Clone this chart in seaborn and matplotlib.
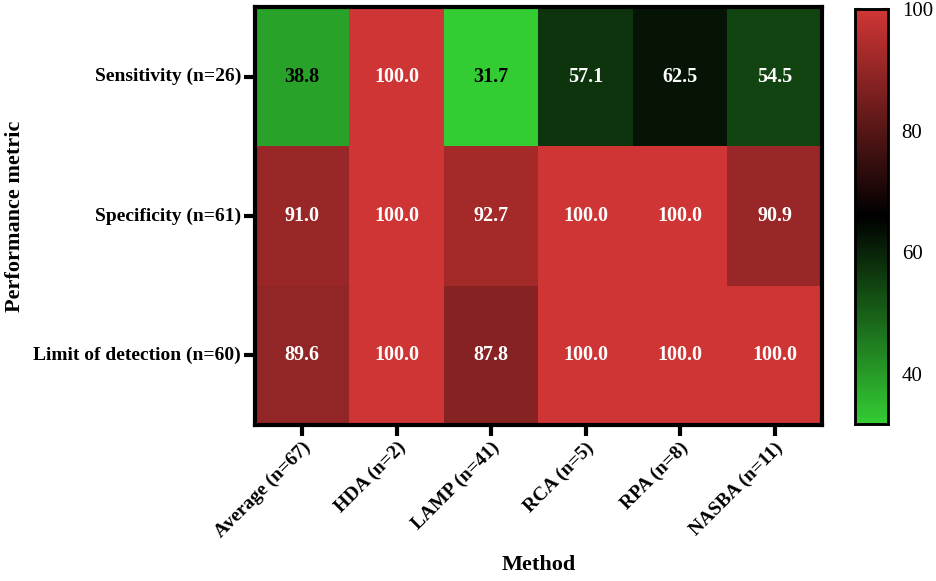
import numpy as np
import pandas as pd
import matplotlib
matplotlib.use("Agg")
import matplotlib.pyplot as plt
import seaborn as sns
from matplotlib.colors import LinearSegmentedColormap

# --- data ---
metodos = ['Average (n=67)', 'HDA (n=2)', 'LAMP (n=41)', 'RCA (n=5)', 'RPA (n=8)', 'NASBA (n=11)']
metricas = ['Sensitivity (n=26)', 'Specificity (n=61)', 'Limit of detection (n=60)']
sensibilidade = [38.8, 100.0, 31.7, 57.1, 62.5, 54.5]
especificidade = [91.0, 100.0, 92.7, 100.0, 100.0, 90.9]
limite_deteccao = [89.6, 100.0, 87.8, 100.0, 100.0, 100.0]
cbar_ticks = [40, 60, 80, 100]

df = pd.DataFrame([sensibilidade, especificidade, limite_deteccao], index=metricas, columns=metodos)

sns.set_theme(style="white")
plt.rcParams['font.family'] = ['Liberation Serif', 'DejaVu Serif']
plt.rcParams['text.color'] = 'black'
plt.rcParams['axes.labelcolor'] = 'black'
plt.rcParams['xtick.color'] = 'black'
plt.rcParams['ytick.color'] = 'black'

cmap = LinearSegmentedColormap.from_list('grn_blk_red', ['#33cc33', '#000000', '#d03535'])

fig = plt.figure(figsize=(9.37, 5.81), dpi=100)
ax = fig.add_axes([0.272, 0.2685, 0.605, 0.7195])
cax = fig.add_axes([0.9125, 0.27, 0.035, 0.714])

sns.heatmap(df, cmap=cmap, vmin=df.values.min(), vmax=100, annot=True, fmt='.1f',
            annot_kws={'fontsize': 14.5, 'fontweight': 'bold'},
            ax=ax, cbar_ax=cax, cbar_kws={'ticks': cbar_ticks})

# cor do texto: preto nos verdes claros, branco no resto
for txt in ax.texts:
    v = float(txt.get_text())
    txt.set_color('black' if v < 45 else 'white')

for s in ax.spines.values():
    s.set_visible(True)
    s.set_linewidth(3)
    s.set_color('black')

ax.tick_params(axis='both', which='major', length=8, width=3, color='black',
               bottom=True, left=True, direction='out', pad=2)
ax.set_xticklabels(metodos, rotation=45, ha='right', rotation_mode='anchor',
                   fontsize=14, fontweight='bold')
ax.set_yticklabels(metricas, rotation=0, fontsize=14, fontweight='bold')
ax.set_xlabel('Method', fontsize=16, fontweight='bold', labelpad=10)
ax.set_ylabel('Performance metric', fontsize=16, fontweight='bold', labelpad=6)

# colorbar
for s in cax.spines.values():
    s.set_visible(True)
    s.set_linewidth(1.8)
    s.set_color('black')
cax.tick_params(axis='y', which='major', direction='in', length=4, width=1.5,
                left=True, right=True, labelsize=15, color='black', pad=10)
cax.yaxis.set_tick_params(which='minor', length=0)

plt.savefig('out.png', dpi=100)
